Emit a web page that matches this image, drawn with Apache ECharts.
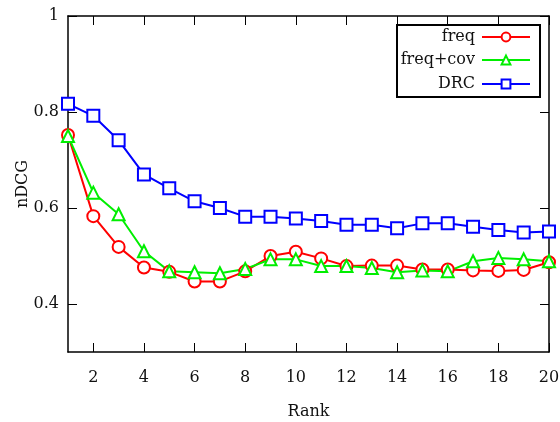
<!DOCTYPE html>
<html>
<head>
<meta charset="utf-8">
<script src="https://cdn.jsdelivr.net/npm/echarts@6/dist/echarts.min.js"></script>
<style>
  html, body { margin: 0; padding: 0; background: #fff; }
  #main { width: 560px; height: 422px; }
</style>
</head>
<body>
<div id="main"></div>
<script>
// ranks 1..20
var ranks = [1,2,3,4,5,6,7,8,9,10,11,12,13,14,15,16,17,18,19,20];
var freq = [0.752,0.583,0.519,0.476,0.467,0.447,0.447,0.468,0.500,0.509,0.495,0.479,0.480,0.480,0.472,0.472,0.470,0.469,0.471,0.487];
var freqCov = [0.750,0.632,0.587,0.510,0.468,0.466,0.464,0.473,0.493,0.493,0.479,0.479,0.475,0.466,0.470,0.468,0.489,0.496,0.493,0.489];
var drc = [0.817,0.792,0.741,0.670,0.641,0.614,0.600,0.582,0.582,0.578,0.573,0.565,0.565,0.558,0.568,0.568,0.561,0.554,0.549,0.551];
var xTicks = [2,4,6,8,10,12,14,16,18,20];
var yTicks = [0.4,0.6,0.8,1];

var FONT = 'DejaVu Serif';
var FS = 16;

function pairs(vals) {
  return ranks.map(function (r, i) { return [r, vals[i]]; });
}

var myChart = echarts.init(document.getElementById('main'));

var axisLine = { lineStyle: { color: '#000', width: 1.5 } };
var tick = function (vals) {
  return { inside: true, length: 9, customValues: vals, lineStyle: { color: '#000', width: 1 } };
};

function series(name, vals, color, symbol) {
  return {
    name: name,
    type: 'line',
    data: pairs(vals),
    symbol: symbol,
    symbolSize: 12,
    showAllSymbol: true,
    lineStyle: { color: color, width: 2 },
    itemStyle: { color: color, borderColor: color, borderWidth: 2 },
    animation: false
  };
}

function legend(name, top) {
  return {
    data: [name],
    right: 29,
    top: top,
    align: 'right',
    itemWidth: 48,
    itemHeight: 11,
    itemGap: 9,
    padding: 0,
    selectedMode: false,
    textStyle: { fontFamily: FONT, fontSize: FS, color: '#111', padding: [0, 2, 0, 0] }
  };
}

var option = {
  backgroundColor: '#fff',
  animation: false,
  grid: { left: 68, right: 11, top: 16, bottom: 70, outerBoundsMode: 'none', containLabel: false },
  legend: [legend('freq', 29), legend('freq+cov', 52), legend('DRC', 76)],
  graphic: [{
    type: 'rect',
    shape: { x: 397, y: 25, width: 143, height: 72 },
    style: { fill: 'none', stroke: '#000', lineWidth: 2 },
    z: 100
  }],
  xAxis: [{
    type: 'value', min: 1, max: 20,
    name: 'Rank', nameLocation: 'middle', nameGap: 52, nameMoveOverlap: false,
    nameTextStyle: { fontFamily: FONT, fontSize: FS, color: '#111' },
    axisLine: axisLine,
    axisTick: tick(xTicks),
    axisLabel: { customValues: xTicks, margin: 18, fontFamily: FONT, fontSize: FS, color: '#111' },
    splitLine: { show: false }
  }, {
    type: 'value', min: 1, max: 20, position: 'top',
    axisLine: axisLine,
    axisTick: tick(xTicks),
    axisLabel: { show: false },
    splitLine: { show: false }
  }],
  yAxis: [{
    type: 'value', min: 0.3, max: 1,
    name: 'nDCG', nameLocation: 'middle', nameGap: 37, nameMoveOverlap: false,
    nameTextStyle: { fontFamily: FONT, fontSize: FS, color: '#111' },
    axisLine: axisLine,
    axisTick: tick(yTicks),
    axisLabel: { customValues: yTicks, margin: 9, fontFamily: FONT, fontSize: FS, color: '#111',
      formatter: function (v) { return String(+v.toFixed(1)); } },
    splitLine: { show: false }
  }, {
    type: 'value', min: 0.3, max: 1, position: 'right',
    axisLine: axisLine,
    axisTick: tick(yTicks),
    axisLabel: { show: false },
    splitLine: { show: false }
  }],
  series: [
    series('freq', freq, '#ff0000', 'emptyCircle'),
    series('freq+cov', freqCov, '#00ee00', 'emptyTriangle'),
    series('DRC', drc, '#0000ff', 'emptyRect')
  ]
};

myChart.setOption(option);
</script>
</body>
</html>
